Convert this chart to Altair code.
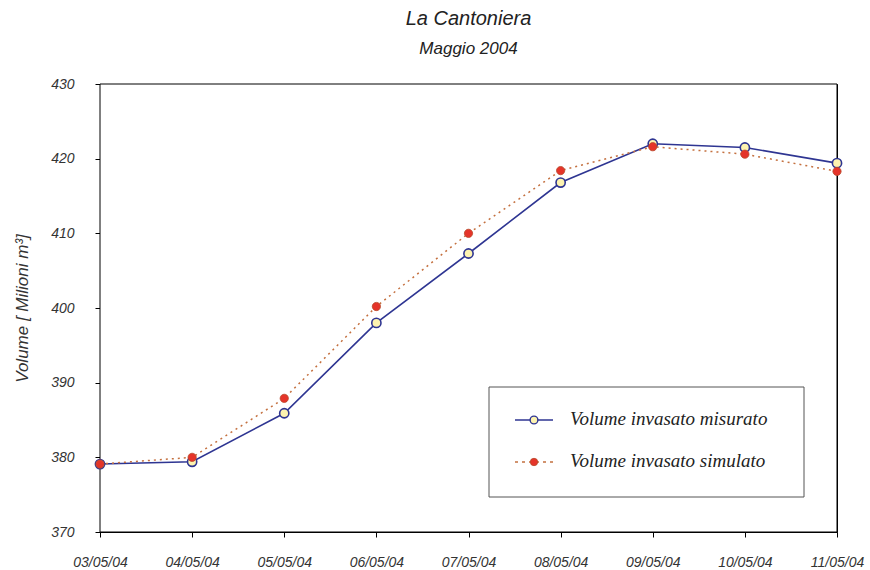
import altair as alt
import pandas as pd

dates = ["03/05/04", "04/05/04", "05/05/04", "06/05/04", "07/05/04",
         "08/05/04", "09/05/04", "10/05/04", "11/05/04"]
misurato = [379.1, 379.4, 385.9, 398.0, 407.3, 416.8, 422.0, 421.5, 419.4]
simulato = [379.1, 380.0, 387.9, 400.2, 410.0, 418.4, 421.6, 420.6, 418.3]
y_ticks = [370, 380, 390, 400, 410, 420, 430]
legend_labels = ["Volume invasato misurato", "Volume invasato simulato"]

NAVY = "#2e3592"
BROWN = "#c4703f"
RED = "#e5342a"
YELLOW = "#fdf3b0"
FONT = "Liberation Sans"

df = pd.DataFrame({"data": dates, "misurato": misurato, "simulato": simulato})

x_enc = alt.X("data:O", sort=dates,
              scale=alt.Scale(type="point", padding=0),
              axis=alt.Axis(title=None, labelAngle=0, tickSize=5, labelPadding=18,
                            labelFontSize=14, labelFontStyle="italic", labelFont=FONT,
                            labelColor="#333333", domainColor="#000000",
                            tickColor="#000000", grid=False))
y_scale = alt.Scale(domain=[370, 430], nice=False, zero=False)
y_axis = alt.Axis(title="Volume [ Milioni m³]", values=y_ticks, grid=False,
                  tickSize=5, labelPadding=21, labelFontSize=14,
                  labelFontStyle="italic", labelFont=FONT, labelColor="#333333",
                  domainColor="#000000", tickColor="#000000",
                  titleFontSize=17, titleFontStyle="italic", titleFont=FONT,
                  titleFontWeight="normal", titleColor="#333333",
                  titleX=-78, titleY=224, titleAngle=-90, titleAlign="center",
                  titleBaseline="middle")

base = alt.Chart(df)

one = alt.Chart(pd.DataFrame({"k": [0]}))
frame = one.mark_rect(fill="white", stroke="#000000", strokeWidth=1).encode(
    x=alt.value(0), x2=alt.value(737), y=alt.value(0), y2=alt.value(448))

line_mis = base.mark_line(color=NAVY, strokeWidth=1.6).encode(
    x=x_enc, y=alt.Y("misurato:Q", scale=y_scale, axis=y_axis))
line_sim = base.mark_line(color=BROWN, strokeWidth=1.5, strokeDash=[2, 4]).encode(
    x=x_enc, y=alt.Y("simulato:Q", scale=y_scale))
pts_mis = base.mark_point(shape="circle", filled=True, fill=YELLOW, stroke=NAVY,
                          strokeWidth=1.6, size=85, opacity=1).encode(
    x=x_enc, y=alt.Y("misurato:Q", scale=y_scale))
pts_sim = base.mark_point(shape="circle", filled=True, fill=RED, stroke="#b8472a",
                          strokeWidth=0.8, size=68, opacity=1).encode(
    x=x_enc, y=alt.Y("simulato:Q", scale=y_scale))

# custom legend (layout positions only)
leg_df = pd.DataFrame({"label": legend_labels})
leg_box = one.mark_rect(fill="white", stroke="#555555", strokeWidth=1).encode(
    x=alt.value(389), x2=alt.value(704), y=alt.value(303), y2=alt.value(413))
leg_line1 = one.mark_rule(color=NAVY, strokeWidth=1.6).encode(
    x=alt.value(415), x2=alt.value(453), y=alt.value(336))
leg_pt1 = one.mark_point(shape="circle", filled=True, fill=YELLOW, stroke=NAVY,
                         strokeWidth=1.4, size=60, opacity=1).encode(
    x=alt.value(434), y=alt.value(336))
leg_line2 = one.mark_rule(color=BROWN, strokeWidth=1.6, strokeDash=[3, 4]).encode(
    x=alt.value(415), x2=alt.value(453), y=alt.value(378))
leg_pt2 = one.mark_point(shape="circle", filled=True, fill=RED, stroke="#b8472a",
                         strokeWidth=0.8, size=55, opacity=1).encode(
    x=alt.value(434), y=alt.value(378))
leg_txt1 = alt.Chart(leg_df).transform_filter(
    alt.datum.label == legend_labels[0]).mark_text(
    align="left", baseline="middle", font="Liberation Serif", fontStyle="italic",
    fontSize=19, color="#222222").encode(
    x=alt.value(470), y=alt.value(335), text="label:N")
leg_txt2 = alt.Chart(leg_df).transform_filter(
    alt.datum.label == legend_labels[1]).mark_text(
    align="left", baseline="middle", font="Liberation Serif", fontStyle="italic",
    fontSize=19, color="#222222").encode(
    x=alt.value(470), y=alt.value(377), text="label:N")

chart = alt.layer(
    frame, line_mis, line_sim, pts_mis, pts_sim,
    leg_box, leg_line1, leg_line2, leg_pt1, leg_pt2, leg_txt1, leg_txt2
).properties(
    width=737, height=448,
    title=alt.TitleParams(
        text="La Cantoniera", subtitle="Maggio 2004", anchor="middle",
        font=FONT, fontSize=20, fontStyle="italic", fontWeight="normal",
        color="#222222", subtitleFont=FONT, subtitleFontSize=17,
        subtitleFontStyle="italic", subtitleColor="#222222",
        subtitlePadding=12, offset=20),
    autosize=alt.AutoSizeParams(type="none"),
    padding={"left": 100, "top": 84, "right": 33, "bottom": 38},
    background="white",
).configure_view(stroke="#000000", strokeWidth=1)

chart.save("out.html", embed_options={"renderer": "svg", "actions": False})
